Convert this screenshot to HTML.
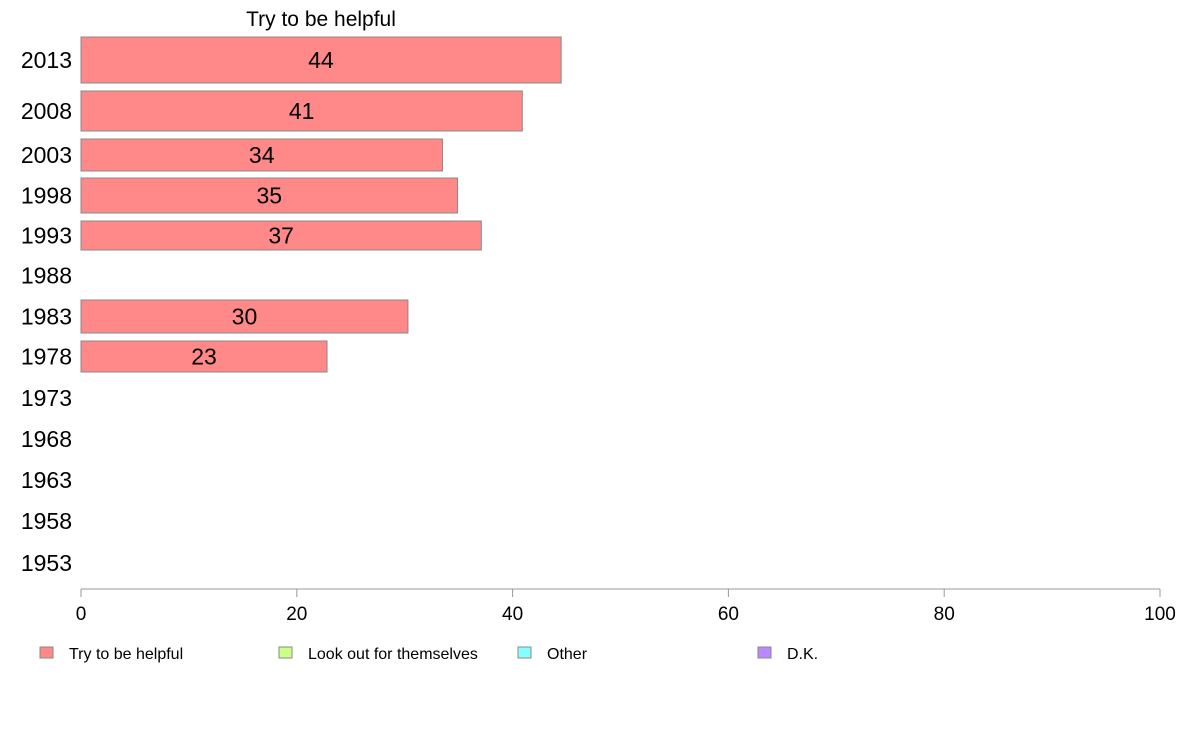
<!DOCTYPE html>
<html><head><meta charset="utf-8">
<style>body{margin:0;background:#fff;font-family:"Liberation Sans",Arial,sans-serif;}svg text{font-family:"Liberation Sans",Arial,sans-serif;}</style>
</head><body>
<svg id="chart" width="1188" height="736" xmlns="http://www.w3.org/2000/svg">
<text x="321" y="26" font-size="21" text-anchor="middle">Try to be helpful</text>
<g id="bars"></g>
<g id="axis"></g>
<g id="legend"></g>
</svg>
<script>
const years = ["2013","2008","2003","1998","1993","1988","1983","1978","1973","1968","1963","1958","1953"];
const values = [44.5, 40.9, 33.5, 34.9, 37.1, null, 30.3, 22.8, null, null, null, null, null];
const valueLabels = ["44","41","34","35","37","","30","23","","","","",""];
const xTicks = [0,20,40,60,80,100];
const legendItems = ["Try to be helpful","Look out for themselves","Other","D.K."];
const legendColors = ["#ff8888","#ccff88","#88ffff","#bb88ff"];
// row layout (top, height) in px for each year row
const rowTop = [37,91,139,178,221,259,300,341,382,423,464,505,547];
const rowH = [46,40,32,35,29,33,33,31,32,32,32,32,32];

const NS="http://www.w3.org/2000/svg";
const x0=81,x1=1160;
const xs=v=>x0+(v/100)*(x1-x0);
function mk(tag,attrs,parent,text){const e=document.createElementNS(NS,tag);for(const k in attrs)e.setAttribute(k,attrs[k]);if(text!==undefined)e.textContent=text;parent.appendChild(e);return e;}
const bars=document.getElementById('bars');
years.forEach((y,i)=>{
  const cy=rowTop[i]+rowH[i]/2;
  const t=mk('text',{x:72,y:cy+8,'font-size':23,'text-anchor':'end'},bars,y);
  
  
  if(values[i]!=null){
    const r=mk('rect',{x:x0,y:rowTop[i],width:xs(values[i])-x0,height:rowH[i],fill:'#ff8888',stroke:'#888','stroke-width':1},bars);
    
    
    const l=mk('text',{x:xs(values[i]/2),y:cy+8,'font-size':23,'text-anchor':'middle'},bars,valueLabels[i]);
    
    
  }
});
const axis=document.getElementById('axis');
const al=mk('line',{x1:x0,x2:x1,y1:589,y2:589,stroke:'#999','stroke-width':1},axis);


xTicks.forEach(v=>{
  const tk=mk('line',{x1:xs(v),x2:xs(v),y1:589,y2:597,stroke:'#999'},axis);
  
  
  const tl=mk('text',{x:xs(v),y:620,'font-size':19,'text-anchor':'middle'},axis,String(v));
  
  
});
const lg=document.getElementById('legend');
const lx=[40,279,518,758];
legendItems.forEach((n,i)=>{
  const g=mk('g',{},lg);
  
  
  mk('rect',{x:lx[i],y:647,width:13,height:11,fill:legendColors[i],stroke:'#888'},g);
  mk('text',{x:lx[i]+29,y:659,'font-size':16},g,n);
});
</script>
</body></html>
